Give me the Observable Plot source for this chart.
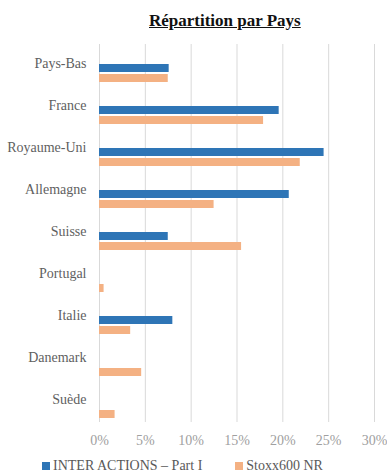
<!DOCTYPE html>
<html>
<head>
<meta charset="utf-8">
<script src="https://cdn.jsdelivr.net/npm/d3@7"></script>
<script src="https://cdn.jsdelivr.net/npm/@observablehq/plot@0.6"></script>
<style>
  body { margin: 0; background: #fff; font-family: "Liberation Serif", serif; }
  #wrap { width: 387px; height: 472px; position: relative; overflow: hidden; }
  #title { height: 32px; line-height: 41px; text-align: left; padding-left: 149px; font-size: 17px; font-weight: bold; text-decoration: underline; color: #111; box-sizing: border-box; overflow: visible; }
  #legend { position: absolute; top: 458px; left: 42px; font-size: 14px; color: #595959; display: flex; align-items: center; white-space: nowrap; }
  .sw { display: inline-block; width: 8px; height: 8px; margin-right: 3px; }
  svg { display: block; }
  #chart svg, #chart svg text { font-family: "Liberation Serif", serif !important; }
</style>
</head>
<body>
<div id="wrap">
  <div id="title">Répartition par Pays</div>
  <div id="chart"></div>
  <div id="legend"></div>
</div>
<script>
const countries = ["Pays-Bas", "France", "Royaume-Uni", "Allemagne", "Suisse", "Portugal", "Italie", "Danemark", "Suède"];
const seriesNames = ["INTER ACTIONS – Part I", "Stoxx600 NR"];
const interActions = [0.076, 0.196, 0.245, 0.207, 0.075, 0, 0.080, 0, 0];
const stoxx600 = [0.075, 0.179, 0.219, 0.125, 0.155, 0.005, 0.034, 0.046, 0.017];
const xTicks = [0, 0.05, 0.10, 0.15, 0.20, 0.25, 0.30];
const colors = ["#2E75B6", "#F4B183"];

const rows = [];
countries.forEach((c, i) => {
  rows.push({country: c, series: seriesNames[0], value: interActions[i]});
  rows.push({country: c, series: seriesNames[1], value: stoxx600[i]});
});

const chart = Plot.plot({
  width: 387,
  height: 415,
  marginTop: 10,
  marginBottom: 24,
  marginLeft: 99,
  marginRight: 13,
  style: {fontFamily: "'Liberation Serif', serif", fontSize: "14px", color: "#595959", background: "#fff"},
  x: {domain: [0, 0.30]},
  y: {domain: ["_a", "_b", ...seriesNames], paddingInner: 0.22, paddingOuter: 0.1, align: 0, axis: null},
  fy: {domain: countries, padding: 0},
  color: {domain: seriesNames, range: colors},
  marks: [
    Plot.gridX(xTicks, {stroke: "#d9d9d9", strokeOpacity: 1, strokeWidth: 1}),
    Plot.axisX(xTicks, {tickSize: 0, tickPadding: 13, tickFormat: d3.format(".0%"), fill: "#a0a0a0", label: null, fontSize: 14}),
    Plot.axisFy({anchor: "left", tickSize: 0, tickPadding: 13, label: null, fill: "#5f5f5f", fontSize: 14, dy: -2}),
    Plot.barX(rows, {fy: "country", y: "series", x: "value", fill: "series"})
  ]
});
document.getElementById("chart").appendChild(chart);

const legend = document.getElementById("legend");
seriesNames.forEach((s, i) => {
  const item = document.createElement("span");
  item.style.display = "inline-flex";
  item.style.alignItems = "center";
  item.style.marginRight = i === 0 ? "33px" : "0";
  const sw = document.createElement("span");
  sw.className = "sw";
  sw.style.background = colors[i];
  item.appendChild(sw);
  item.appendChild(document.createTextNode(s));
  legend.appendChild(item);
});
</script>
</body>
</html>
